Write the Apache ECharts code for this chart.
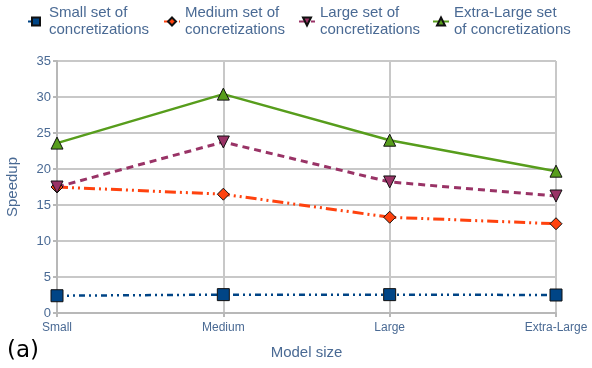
<!DOCTYPE html>
<html>
<head>
<meta charset="utf-8">
<script src="https://cdn.jsdelivr.net/npm/echarts@6/dist/echarts.min.js"></script>
<style>
  html, body { margin: 0; padding: 0; background: #fff; }
  #chart { width: 592px; height: 368px; }
</style>
</head>
<body>
<div id="chart"></div>
<script>
var modelSizes = ['Small', 'Medium', 'Large', 'Extra-Large'];
var seriesNames = ['Small set of\nconcretizations', 'Medium set of\nconcretizations',
                   'Large set of\nconcretizations', 'Extra-Large set\nof concretizations'];
var smallSet = [2.4, 2.55, 2.55, 2.5];
var mediumSet = [17.5, 16.5, 13.3, 12.4];
var largeSet = [17.5, 23.75, 18.2, 16.25];
var extraLargeSet = [23.6, 30.4, 24.0, 19.7];

var txt = '#4a6a94';
var grey = '#b8b8b8';

function mkLegend(name, left) {
    return {
        data: [name], left: left, top: -9,
        itemWidth: 16, itemHeight: 10, itemGap: 0,
        textStyle: { color: txt, fontSize: 15, lineHeight: 17, padding: [17, 0, 0, 0],
                     fontFamily: 'Liberation Sans' }
    };
}

var chart = echarts.init(document.getElementById('chart'));
chart.setOption({
    animation: false,
    textStyle: { fontFamily: 'Liberation Sans' },
    legend: [
        mkLegend(seriesNames[0], 22),
        mkLegend(seriesNames[1], 158),
        mkLegend(seriesNames[2], 293),
        mkLegend(seriesNames[3], 427)
    ],
    grid: { left: 57, right: 36, top: 61, bottom: 55, containLabel: false, outerBoundsMode: 'none' },
    xAxis: {
        type: 'category', data: modelSizes, boundaryGap: false,
        name: 'Model size', nameLocation: 'middle', nameGap: 32,
        nameTextStyle: { color: txt, fontSize: 15 },
        axisLine: { lineStyle: { color: grey, width: 2 } },
        axisTick: { show: true, length: 4, lineStyle: { color: grey, width: 2 } },
        axisLabel: { color: txt, fontSize: 12, margin: 9 },
        splitLine: { show: true, lineStyle: { color: '#c8c8c8', width: 2 } }
    },
    yAxis: {
        type: 'value', min: 0, max: 35, interval: 5,
        name: 'Speedup', nameLocation: 'middle', nameGap: 37,
        nameTextStyle: { color: txt, fontSize: 15 },
        axisLine: { show: true, lineStyle: { color: grey, width: 2 } },
        axisTick: { show: true, length: 4, lineStyle: { color: grey, width: 2 } },
        axisLabel: { color: txt, fontSize: 13, margin: 6 },
        splitLine: { lineStyle: { color: '#c8c8c8', width: 2 } }
    },
    graphic: [{
        type: 'text', left: 7, top: 340,
        style: { text: '(a)', fontSize: 23, fill: '#000', fontFamily: 'DejaVu Sans' }
    }],
    series: [
        {
            name: seriesNames[0], type: 'line', data: smallSet,
            symbol: 'rect', symbolSize: 12,
            itemStyle: { color: '#004586', borderColor: '#111', borderWidth: 1 },
            lineStyle: { color: '#004586', width: 2.5, type: [6, 4, 2, 4, 2, 4] }
        },
        {
            name: seriesNames[1], type: 'line', data: mediumSet,
            symbol: 'diamond', symbolSize: 12,
            itemStyle: { color: '#ff420e', borderColor: '#111', borderWidth: 1 },
            lineStyle: { color: '#ff420e', width: 3, type: [11, 4, 2, 4, 2, 4] }
        },
        {
            name: seriesNames[2], type: 'line', data: largeSet,
            symbol: 'triangle', symbolRotate: 180, symbolSize: 12,
            itemStyle: { color: '#993366', borderColor: '#111', borderWidth: 1 },
            lineStyle: { color: '#993366', width: 3, type: [7, 5] }
        },
        {
            name: seriesNames[3], type: 'line', data: extraLargeSet,
            symbol: 'triangle', symbolSize: 12,
            itemStyle: { color: '#579d1c', borderColor: '#111', borderWidth: 1 },
            lineStyle: { color: '#579d1c', width: 2.5 }
        }
    ]
});
</script>
</body>
</html>
